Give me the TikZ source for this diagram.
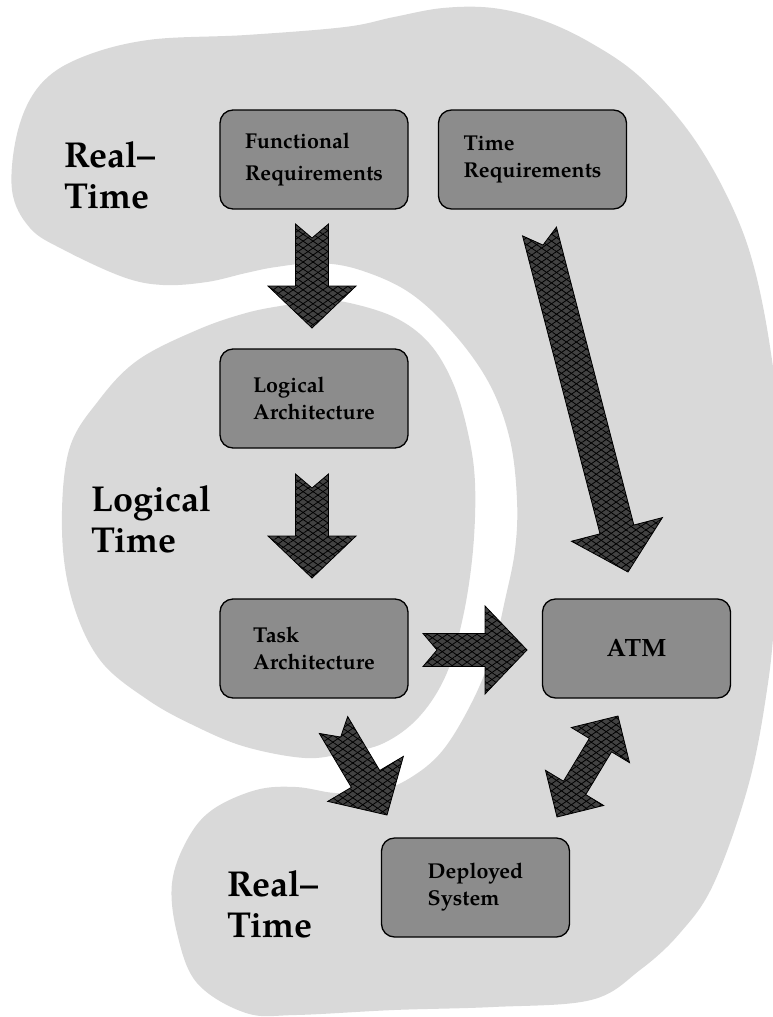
\documentclass[tikz,border=0pt]{standalone}
\usepackage{fontspec}
\setmainfont{TeX Gyre Pagella}
\usetikzlibrary{calc,patterns.meta}

\definecolor{blobgray}{RGB}{217,217,217}
\definecolor{boxgray}{RGB}{140,140,140}
\definecolor{arrowgray}{RGB}{66,66,66}

\tikzset{
  blob/.style={fill=blobgray, draw=none},
  stage/.style={draw=black, line width=1.3pt, fill=boxgray, rounded corners=13pt,
    minimum width=188pt, minimum height=99pt, inner sep=0pt, align=left,
    font=\bfseries\fontsize{21.5}{27}\selectfont},
  era/.style={align=left, inner sep=0pt, font=\bfseries\fontsize{36}{41}\selectfont},
  fatarrow/.style={draw=black, line width=0.8pt, fill=arrowgray, line join=miter,
    postaction={pattern={Lines[angle=35,distance=5.7pt,line width=0.8pt]}, pattern color=black},
    postaction={pattern={Lines[angle=-35,distance=5.7pt,line width=0.8pt]}, pattern color=black}},
}

% block arrow with a notched tail: tail, tip, half shaft, half head, head length
\newcommand{\onewayarrow}[5]{%
  \coordinate (hb) at ($(#2)!#5!(#1)$);
  \draw[fatarrow] ($(#1)!#3!90:(#2)$) -- ($(#1)!14pt!(#2)$) -- ($(#1)!#3!-90:(#2)$)
    -- ($(hb)!#3!-90:(#2)$) -- ($(hb)!#4!-90:(#2)$) -- (#2)
    -- ($(hb)!#4!90:(#2)$) -- ($(hb)!#3!90:(#2)$) -- cycle;
}
% block arrow with a head at both ends
\newcommand{\twowayarrow}[5]{%
  \coordinate (hbA) at ($(#2)!#5!(#1)$);
  \coordinate (hbB) at ($(#1)!#5!(#2)$);
  \draw[fatarrow] (#2) -- ($(hbA)!#4!90:(#2)$) -- ($(hbA)!#3!90:(#2)$)
    -- ($(hbB)!#3!90:(#2)$) -- ($(hbB)!#4!90:(#2)$) -- (#1)
    -- ($(hbB)!#4!-90:(#2)$) -- ($(hbB)!#3!-90:(#2)$)
    -- ($(hbA)!#3!-90:(#2)$) -- ($(hbA)!#4!-90:(#2)$) -- cycle;
}

\begin{document}
\begin{tikzpicture}[x=1pt,y=-1pt]
\useasboundingbox (0,0) rectangle (772,1017);

% outer real-time region, wrapping round to the bottom
\fill[blob] plot[smooth cycle, tension=0.6] coordinates {
  (12,190) (18,130) (40,85) (80,58) (148,40) (246,35) (345,27) (394,17)
  (443,8) (493,8) (542,20) (591,43) (640,77) (690,133) (729,200) (754,267)
  (772,360) (785,480) (776,600) (768,683) (749,783) (714,883) (680,933)
  (640,970) (591,1000) (493,1007) (394,1010) (296,1015) (246,1013)
  (197,983) (177,933) (172,883) (187,840) (212,810) (256,790) (296,787)
  (335,793) (375,792) (410,778) (443,750) (473,700) (493,650) (505,600)
  (515,550) (517,500) (510,440) (490,385) (455,335) (410,293) (360,270)
  (318,263) (276,267) (246,273) (207,282) (163,285) (123,277) (64,250)
  (30,228)};

% logical-time region
\fill[blob] plot[smooth cycle, tension=0.6] coordinates {
  (286,305) (315,301) (345,302) (394,317) (429,343) (453,383) (468,433)
  (475,483) (473,550) (463,617) (446,675) (419,717) (384,743) (345,753)
  (305,758) (246,747) (197,727) (148,700) (100,660) (72,600) (62,530)
  (69,450) (99,400) (138,360) (197,330) (246,313)};

% stages
\node[stage] (fr) at (314,159.5) {Functional\\[5pt]Requirements};
\node[stage] (tr) at (532.5,159.5) {Time\\Requirements};
\node[stage] (la) at (314,398.5) {Logical\\Architecture};
\node[stage] (ta) at (314,648.5) {Task\\Architecture};
\node[stage, font=\bfseries\fontsize{25}{28}\selectfont] (atm) at (636.5,648.5) {ATM};
\node[stage] (ds) at (475.5,887.5) {Deployed\\System};

% region labels (anchored on the baseline of the last line)
\node[era, anchor=base west] (rt1) at (64,208) {Real–\\Time};
\node[era, anchor=base west] (lt) at (91,552) {Logical\\Time};
\node[era, anchor=base west] (rt2) at (227,937) {Real–\\Time};

% arrow end points
\coordinate (frOut) at (312,224);
\coordinate (laIn) at (312,328);
\coordinate (laOut) at (312,474);
\coordinate (taIn) at (312,578);
\coordinate (trOut) at (539.5,231.5);
\coordinate (atmInT) at (628,572);
\coordinate (taOut) at (423,650);
\coordinate (atmInL) at (527,650);
\coordinate (taOutB) at (333.5,725);
\coordinate (dsIn) at (387,815);
\coordinate (dsEnd) at (557,817);
\coordinate (atmEnd) at (618,716);

\onewayarrow{frOut}{laIn}{16.5pt}{44pt}{42pt}
\onewayarrow{laOut}{taIn}{16.5pt}{44pt}{42pt}
\onewayarrow{trOut}{atmInT}{17.5pt}{47pt}{44pt}
\onewayarrow{taOut}{atmInL}{16.5pt}{44pt}{42pt}
\onewayarrow{taOutB}{dsIn}{16.5pt}{44pt}{42pt}
\twowayarrow{dsEnd}{atmEnd}{13pt}{34pt}{34pt}
\end{tikzpicture}
\end{document}
